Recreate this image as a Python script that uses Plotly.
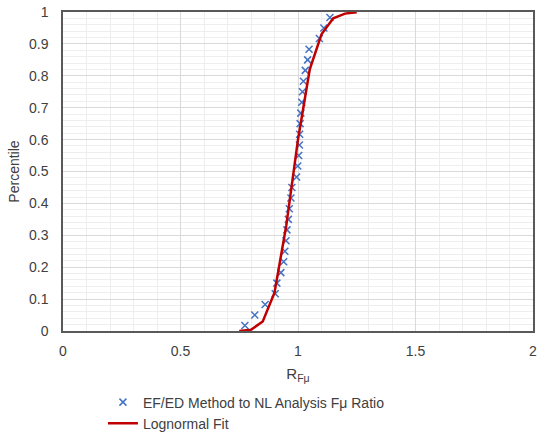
import plotly.graph_objects as go

# Data
ratio_x = [0.774, 0.816, 0.860, 0.903, 0.910, 0.927, 0.939, 0.944, 0.949, 0.953,
           0.959, 0.963, 0.970, 0.974, 0.994, 0.999, 1.003, 1.006, 1.007, 1.009,
           1.012, 1.016, 1.019, 1.023, 1.031, 1.041, 1.047, 1.091, 1.110, 1.136]
ratio_p = [0.017, 0.050, 0.083, 0.117, 0.150, 0.183, 0.217, 0.250, 0.283, 0.317,
           0.350, 0.383, 0.417, 0.450, 0.483, 0.517, 0.550, 0.583, 0.617, 0.650,
           0.683, 0.717, 0.750, 0.783, 0.817, 0.850, 0.883, 0.917, 0.950, 0.983]

fit_x = [0.75, 0.80, 0.85, 0.90, 0.95, 1.00, 1.05, 1.10, 1.15, 1.20, 1.25]
fit_p = [0.000, 0.004, 0.030, 0.120, 0.330, 0.600, 0.820, 0.930, 0.980, 0.995, 0.999]

x_ticks = [0, 0.5, 1, 1.5, 2]
y_ticks = [0, 0.1, 0.2, 0.3, 0.4, 0.5, 0.6, 0.7, 0.8, 0.9, 1]

font_family = "Liberation Sans, Arial, sans-serif"

fig = go.Figure()
fig.add_trace(go.Scatter(
    x=ratio_x, y=ratio_p, mode="markers",
    name="EF/ED Method to NL Analysis F\u03bc Ratio",
    marker=dict(symbol="x-thin", size=7, color="#4472C4",
                line=dict(width=1.5, color="#4472C4")),
))
fig.add_trace(go.Scatter(
    x=fit_x, y=fit_p, mode="lines", name="Lognormal Fit",
    line=dict(color="#C00000", width=2.5),
))

fig.update_layout(
    width=537, height=438,
    margin=dict(l=63, r=4, t=12, b=107, autoexpand=False),
    paper_bgcolor="white", plot_bgcolor="white",
    font=dict(family=font_family, size=14, color="#404040"),
    showlegend=True,
    legend=dict(
        orientation="v", x=0.085, xanchor="left", y=-0.174, yanchor="top",
        yref="paper", bgcolor="rgba(0,0,0,0)", font=dict(size=14, color="#404040"),
        itemwidth=30, tracegroupgap=0,
    ),
)

fig.update_xaxes(
    range=[0, 2], tickvals=x_ticks, ticktext=[str(v) for v in x_ticks],
    showgrid=True, gridcolor="#d9d9d9", gridwidth=1,
    minor=dict(dtick=0.1, showgrid=True, gridcolor="#eeeeee", gridwidth=1),
    showline=True, linecolor="#595959", linewidth=1.5, mirror=True,
    ticks="", zeroline=False, automargin=False, ticklabelstandoff=6,
    ticklabeloverflow="allow",
    title=dict(text="R<sub>F\u03bc</sub>", standoff=11, font=dict(size=15)),
)
fig.update_yaxes(
    range=[0, 1], tickvals=y_ticks, ticktext=[f"{v:g}" for v in y_ticks],
    showgrid=True, gridcolor="#d9d9d9", gridwidth=1,
    minor=dict(dtick=0.02, showgrid=True, gridcolor="#eeeeee", gridwidth=1),
    showline=True, linecolor="#595959", linewidth=1.5, mirror=True,
    ticks="", zeroline=False, ticklabelstandoff=10, automargin=False,
    ticklabeloverflow="allow",
    title=dict(text="Percentile", standoff=6, font=dict(size=14)),
)

fig.write_html("out.html")
